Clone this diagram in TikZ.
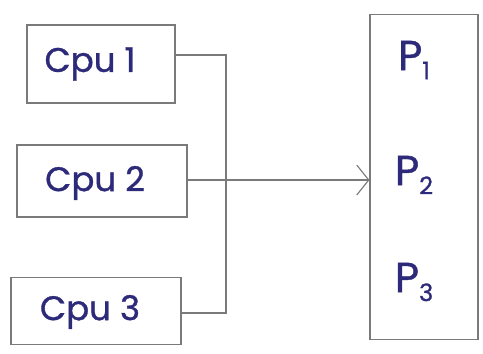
\documentclass[tikz,border=0pt]{standalone}
\usepackage{fontspec}
\setmainfont{Poppins}[FakeBold=1]
\usetikzlibrary{arrows.meta}
\definecolor{ink}{HTML}{2E2A7A}
\definecolor{pencil}{HTML}{7A7A7A}
\newcommand{\mysub}[1]{\raisebox{-9pt}{\fontsize{24}{24}\selectfont #1}}
\begin{document}
\begin{tikzpicture}[x=1pt,y=1pt,
  box/.style={draw=pencil,line width=1.1pt,minimum width=#1,inner sep=0pt},
  lab/.style={text=ink,font=\fontsize{34}{38}\selectfont,inner sep=0pt},
  plab/.style={text=ink,font=\fontsize{42}{46}\selectfont,inner sep=0pt},
  wire/.style={draw=pencil,line width=1.1pt}]
\useasboundingbox[fill=white] (0,0) rectangle (483,-354);
\node[box=148,minimum height=78] (cpu1) at (101,-64) {};
\node[box=170,minimum height=72] (cpu2) at (102,-181) {};
\node[box=170,minimum height=67] (cpu3) at (96,-311) {};
\node[lab] (t1) at (90,-64) {Cpu 1};
\node[lab] (t2) at (95,-183) {Cpu 2};
\node[lab] (t3) at (90,-312) {Cpu 3};
\node[box=108,minimum height=325] (mem) at (424,-177) {};
\node[plab] (p1) at (414,-60) {P\mysub{1}};
\node[plab] (p2) at (414,-175) {P\mysub{2}};
\node[plab] (p3) at (414,-282) {P\mysub{3}};
\coordinate (b1) at (226,-55);
\coordinate (b2) at (226,-180);
\coordinate (b3) at (226,-313);
\draw[wire] (cpu1.east |- b1) -- (b1) -- (b3) -- (cpu3.east |- b3);
\draw[wire] (cpu2.east |- b2) -- (b2);
\draw[wire,-{Straight Barb[length=12pt,width=30pt,line width=1.1pt]}] (b2) -- (mem.west |- b2);
\end{tikzpicture}
\end{document}
